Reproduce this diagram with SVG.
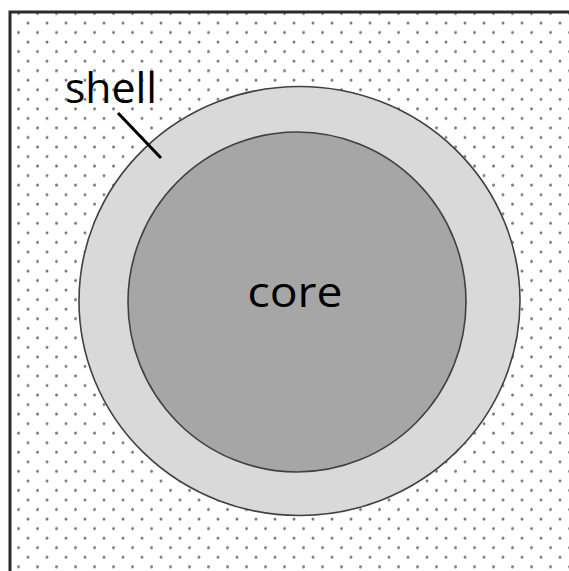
<svg xmlns="http://www.w3.org/2000/svg" width="569" height="571" viewBox="0 0 569 571">
  <style>
    .lbl { font-family: "Open Sans", "Liberation Sans", sans-serif; fill: #000; }
    .ring { stroke: #404040; stroke-width: 1.6; }
    .dot { fill: #7a7a7a; }
  </style>
  <defs>
    <pattern id="dots" patternUnits="userSpaceOnUse" x="0" y="0" width="19" height="19.08">
      <circle class="dot" cx="9" cy="3.9" r="1.5"/>
      <circle class="dot" cx="18.5" cy="13.44" r="1.5"/>
      <circle class="dot" cx="-0.5" cy="13.44" r="1.5"/>
    </pattern>
  </defs>
  <rect x="0" y="0" width="569" height="571" fill="#ffffff"/>
  <g id="background">
    <rect x="10" y="12" width="570" height="570" fill="url(#dots)"/>
    <path d="M10 575 V12 H575" fill="none" stroke="#2a2a2a" stroke-width="3"/>
  </g>
  <g id="shell">
    <ellipse class="ring" cx="299.5" cy="301" rx="220.5" ry="214.5" fill="#d9d9d9"/>
  </g>
  <g id="core">
    <ellipse class="ring" cx="297" cy="302" rx="169" ry="170" fill="#a6a6a6"/>
    <text class="lbl" x="295" y="307" font-size="42" text-anchor="middle" textLength="95" lengthAdjust="spacingAndGlyphs">core</text>
  </g>
  <g id="connectors">
    <line x1="118" y1="113" x2="161" y2="158" stroke="#000" stroke-width="3"/>
  </g>
  <g id="shell-label">
    <text class="lbl" x="65" y="103" font-size="42" textLength="92" lengthAdjust="spacingAndGlyphs">shell</text>
  </g>
</svg>
